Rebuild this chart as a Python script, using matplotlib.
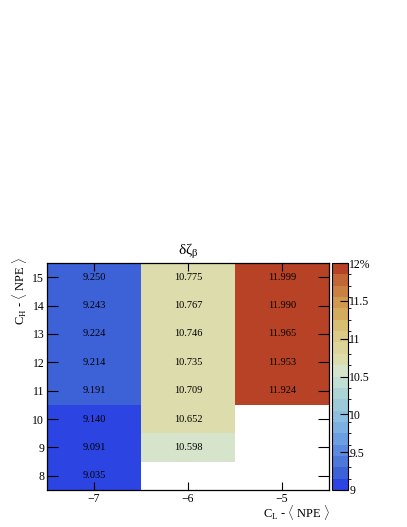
import numpy as np
import matplotlib
matplotlib.use("Agg")
import matplotlib.pyplot as plt
from matplotlib.colors import ListedColormap, BoundaryNorm

x_cats = [-7, -6, -5]
y_cats = [8, 9, 10, 11, 12, 13, 14, 15]
vals_m7 = [9.035, 9.091, 9.140, 9.191, 9.214, 9.224, 9.243, 9.250]
vals_m6 = [None, 10.598, 10.652, 10.709, 10.735, 10.746, 10.767, 10.775]
vals_m5 = [None, None, None, 11.924, 11.953, 11.965, 11.990, 11.999]
title = "δζ$_{\\mathrm{β}}$"
xlabel = "C$_{\\mathrm{L}}$ - $\\langle$ NPE $\\rangle$"
ylabel = "C$_{\\mathrm{H}}$ - $\\langle$ NPE $\\rangle$"
cbar_ticks = [9, 9.5, 10, 10.5, 11, 11.5, 12]
cbar_ticklabels = ["9", "9.5", "10", "10.5", "11", "11.5", "12%"]

band_colors = ["#2c44e2", "#3d62d8", "#4c78da", "#5c8ade", "#6c9ee2", "#7cb0e2",
               "#8cbee0", "#9ccad8", "#acd6d6", "#c0e0d6", "#d6e4cc", "#dcdcac",
               "#ddd49a", "#dccb86", "#d8be70", "#d4ac5e", "#d09850", "#ca8042",
               "#c26636", "#b84226"]
cmap = ListedColormap(band_colors)
cmap.set_bad("white")
bounds = np.linspace(9, 12, 21)
norm = BoundaryNorm(bounds, cmap.N)

plt.rcParams['font.family'] = ['Liberation Serif', 'DejaVu Serif']
plt.rcParams['mathtext.fontset'] = 'custom'
plt.rcParams['mathtext.rm'] = 'Liberation Serif'
plt.rcParams['mathtext.it'] = 'Liberation Serif:italic'

Z = np.array([[np.nan if v is None else v for v in col] for col in (vals_m7, vals_m6, vals_m5)]).T
Zm = np.ma.masked_invalid(Z)

fig = plt.figure(figsize=(4.07, 5.27), dpi=100)
W, H = 407, 527
ax = fig.add_axes([47 / W, 1 - 490 / H, (329 - 47) / W, (490 - 263) / H])
cax = fig.add_axes([332 / W, 1 - 490 / H, (348 - 332) / W, (490 - 263) / H])

xe = np.array(x_cats + [x_cats[-1] + 1]) - 0.5
ye = np.array(y_cats + [y_cats[-1] + 1]) - 0.5
mesh = ax.pcolormesh(xe, ye, Zm, cmap=cmap, norm=norm)
for j, x in enumerate(x_cats):
    for i, y in enumerate(y_cats):
        if not np.ma.is_masked(Zm[i, j]):
            ax.text(x, y, f"{Z[i, j]:.3f}", ha="center", va="center", fontsize=7.5)

ax.set_xlim(xe[0], xe[-1])
ax.set_ylim(ye[0], ye[-1])
ax.set_xticks(x_cats)
ax.set_xticklabels(["\u22127", "\u22126", "\u22125"])
ax.set_yticks(y_cats)
ax.tick_params(axis="y", direction="in", length=8, width=0.8, labelsize=8.5, left=True, right=True, pad=2)
ax.tick_params(axis="x", direction="in", length=6, width=0.8, labelsize=8.5, bottom=True, top=True, pad=2)
ax.set_title(title, fontsize=11, pad=6)
fig.text(330 / W, 1 - 513 / H, xlabel, ha="right", va="center", fontsize=9)
fig.text(20 / W, 1 - 291 / H, ylabel, ha="center", va="center", rotation=90, fontsize=9)
for s in ax.spines.values():
    s.set_linewidth(0.9)

cb = fig.colorbar(mesh, cax=cax, ticks=cbar_ticks)
cb.ax.set_yticklabels(cbar_ticklabels)
cb.ax.tick_params(direction="in", length=6, width=0.8, labelsize=8.5, pad=1)
cb.outline.set_linewidth(0.8)

fig.savefig("out.png", dpi=100)
